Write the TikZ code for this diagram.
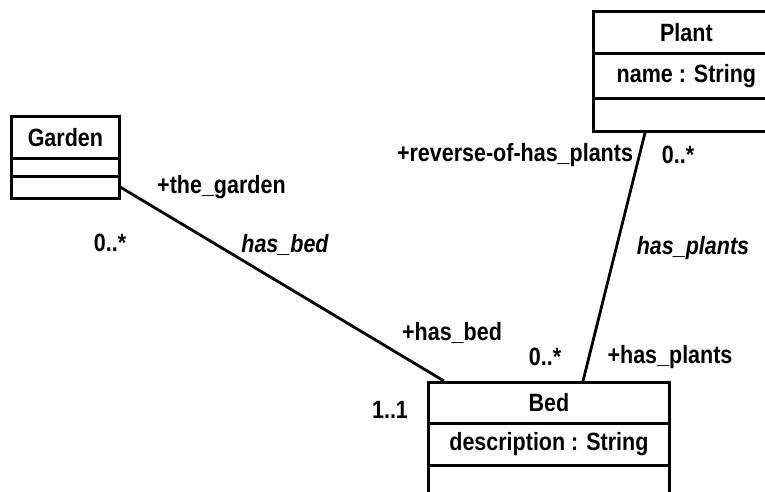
\documentclass[tikz,border=0pt]{standalone}
\usepackage{fontspec}
\setmainfont{Liberation Sans}[FakeStretch=0.86]
\begin{document}
\begin{tikzpicture}[x=1pt,y=-1pt,
  txt/.style={font=\bfseries\fontsize{25}{29}\selectfont},
  comp/.style={draw, line width=2.8pt, inner sep=0pt, anchor=north west, txt},
  lbl/.style={inner sep=0pt, txt},
  itl/.style={font=\bfseries\itshape\fontsize{25}{29}\selectfont},
  assoc/.style={line width=2.8pt}]
\useasboundingbox (0,0) rectangle (765,492);
\fill[white] (0,0) rectangle (765,492);
\clip (0,0) rectangle (765,492);
% Garden
\node[comp, minimum width=108pt, minimum height=42pt] (gardenT) at (10,115) {Garden};
\node[comp, minimum width=108pt, minimum height=18pt] (gardenA) at (10,157) {};
\node[comp, minimum width=108pt, minimum height=22pt] (gardenO) at (10,175) {};
% Plant
\node[comp, minimum width=186pt, minimum height=42pt] (plantT) at (592,10) {Plant};
\node[comp, minimum width=186pt, minimum height=45pt] (plantA) at (592,52) {name : String};
\node[comp, minimum width=186pt, minimum height=33pt] (plantO) at (592,97) {};
% Bed
\node[comp, minimum width=241pt, minimum height=41pt] (bedT) at (427,381) {Bed};
\node[comp, minimum width=241pt, minimum height=42pt] (bedA) at (427,422) {description : String};
\node[comp, minimum width=241pt, minimum height=40pt] (bedO) at (427,464) {};
% associations
\draw[assoc] (gardenO.east) -- ([xshift=17pt]bedT.north west);
\draw[assoc] ([xshift=53pt]plantO.south west) -- ([xshift=156pt]bedT.north west);
% labels
\node[lbl, anchor=west] (l1) at (157,187) {+the\_garden};
\node[lbl] (l2) at (110,243) {0..*};
\node[lbl, itl] (l3) at (285,245) {has\_bed};
\node[lbl] (l4) at (452,333) {+has\_bed};
\node[lbl] (l5) at (390,410) {1..1};
\node[lbl] (l6) at (545,357) {0..*};
\node[lbl] (l7) at (670,357) {+has\_plants};
\node[lbl, itl] (l8) at (693,248) {has\_plants};
\node[lbl] (l9) at (515,155) {+reverse-of-has\_plants};
\node[lbl] (l10) at (678,155) {0..*};
\end{tikzpicture}
\end{document}
